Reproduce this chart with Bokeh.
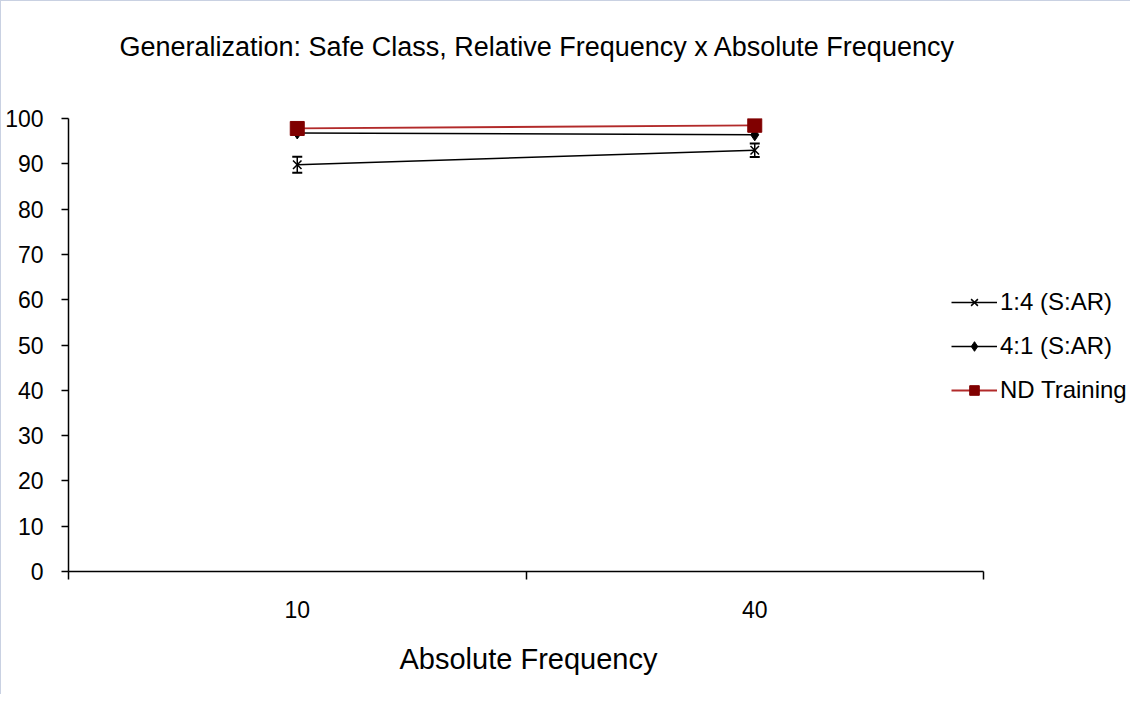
from bokeh.plotting import figure
from bokeh.models import (ColumnDataSource, Whisker, TeeHead, FixedTicker, Range1d,
                          Legend, LegendItem, Title)
from bokeh.embed import file_html
from bokeh.resources import INLINE

# ---- data ----
categories = ["10", "40"]
cat_pos = [0.5, 1.5]
s14 = [89.8, 93.0]          # 1:4 (S:AR)
s14_err = [1.75, 1.5]
s41 = [96.8, 96.4]          # 4:1 (S:AR)
nd = [97.8, 98.5]           # ND Training
y_ticks = list(range(0, 101, 10))
title_text = "Generalization:  Safe Class, Relative Frequency x Absolute Frequency"
x_title = "Absolute Frequency"

FONT = "Liberation Sans"

W, H = 1130, 694
LEFT, AXIS_END, TOP, BOTTOM, RIGHT = 67, 982, 117, 570, 1126
x_end = 2 * (RIGHT - LEFT) / (AXIS_END - LEFT)

p = figure(width=W, height=H, output_backend="svg", toolbar_location=None, title=None,
           x_range=Range1d(0, x_end), y_range=Range1d(0, 100),
           min_border_left=LEFT, min_border_right=W - RIGHT,
           min_border_top=TOP, min_border_bottom=H - BOTTOM)
p.styles = {"border-left": "1px solid #c9d1e2", "border-top": "1px solid #c9d1e2"}

# spacer (inner) + main title (outer)
p.add_layout(Title(text=" ", text_font=FONT, text_font_size="10px", standoff=16), "above")
p.add_layout(Title(text=title_text, text_font=FONT, text_font_size="27px",
                   text_font_style="normal", text_color="black", align="left",
                   offset=51, standoff=56), "above")

p.outline_line_color = None
p.xgrid.grid_line_color = None
p.ygrid.grid_line_color = None
p.background_fill_color = "white"
p.border_fill_color = "white"

# x axis
xa = p.xaxis[0]
xa.bounds = (0, 2)
xa.ticker = FixedTicker(ticks=cat_pos, minor_ticks=[0, 1, 2])
xa.major_label_overrides = {cat_pos[i]: categories[i] for i in range(len(categories))}
xa.major_tick_line_color = None
xa.major_tick_out = 0
xa.minor_tick_out = 8
xa.minor_tick_in = 0
xa.minor_tick_line_color = "black"
xa.minor_tick_line_width = 1.5
xa.axis_line_color = "black"
xa.axis_line_width = 1.5
xa.major_label_text_font = FONT
xa.major_label_text_font_size = "23px"
xa.major_label_text_color = "black"
xa.major_label_standoff = 21

# x axis title, placed below the axis and aligned like the reference
p.add_layout(Title(text=x_title, text_font=FONT, text_font_size="29px",
                   text_font_style="normal", text_color="black", align="left",
                   offset=331, standoff=40), "below")

# y axis
ya = p.yaxis[0]
ya.ticker = FixedTicker(ticks=y_ticks, minor_ticks=[])
ya.major_tick_out = 7
ya.major_tick_in = 0
ya.major_tick_line_color = "black"
ya.major_tick_line_width = 1.5
ya.axis_line_color = "black"
ya.axis_line_width = 1.5
ya.major_label_text_font = FONT
ya.major_label_text_font_size = "23px"
ya.major_label_text_color = "black"
ya.major_label_standoff = 18

# series
src14 = ColumnDataSource(dict(x=cat_pos, y=s14,
                              lo=[s14[i] - s14_err[i] for i in range(2)],
                              hi=[s14[i] + s14_err[i] for i in range(2)]))
r14l = p.line("x", "y", source=src14, line_color="black", line_width=1.5)
r14m = p.scatter("x", "y", source=src14, marker="x", size=12, line_color="black", line_width=1.5)
p.add_layout(Whisker(source=src14, base="x", upper="hi", lower="lo", line_color="black",
                     line_width=1.5,
                     upper_head=TeeHead(size=10, line_color="black", line_width=2),
                     lower_head=TeeHead(size=10, line_color="black", line_width=2)))

r41l = p.line(cat_pos, s41, line_color="black", line_width=1.5)
r41m = p.scatter(cat_pos, s41, marker="diamond", size=12, fill_color="black", line_color="black")

rndl = p.line(cat_pos, nd, line_color="#b22a2a", line_width=1.8)
rndm = p.scatter(cat_pos, nd, marker="square", size=14, fill_color="#800000", line_color="#800000")

legend = Legend(items=[
    LegendItem(label="1:4 (S:AR)", renderers=[r14l, r14m]),
    LegendItem(label="4:1 (S:AR)", renderers=[r41l, r41m]),
    LegendItem(label="ND Training", renderers=[rndl, rndm]),
], location=(883, 167))
legend.border_line_color = None
legend.background_fill_alpha = 0
legend.padding = 0
legend.margin = 0
legend.spacing = 16
legend.glyph_width = 46
legend.glyph_height = 24
legend.label_height = 24
legend.label_standoff = 3
legend.label_text_font = FONT
legend.label_text_font_size = "24px"
legend.label_text_color = "black"
p.add_layout(legend, "center")

open("out.html", "w").write(file_html(p, INLINE))
